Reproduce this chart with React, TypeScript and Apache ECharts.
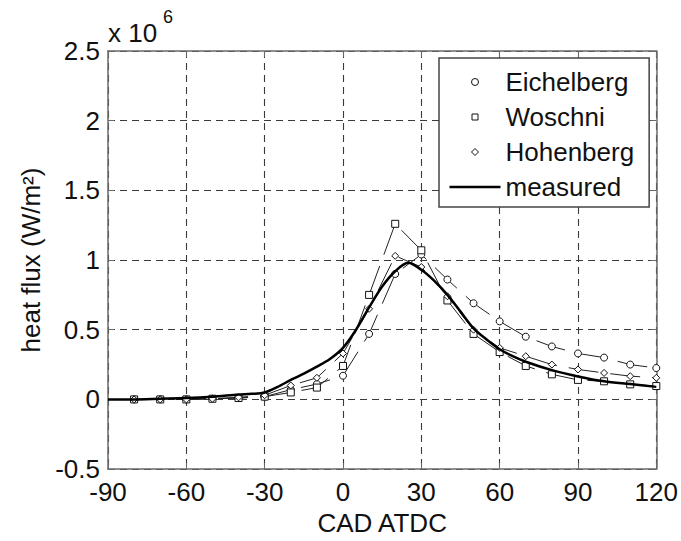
import React, { useEffect, useRef } from "react";
import * as echarts from "echarts";

// Model predictions, every 10 crank-angle degrees (heat flux in 10^6 W/m^2)
const MODEL_CAD = [-80, -70, -60, -50, -40, -30, -20, -10, 0, 10, 20, 30, 40, 50, 60, 70, 80, 90, 100, 110, 120];
const EICHELBERG = [0.0, 0.0, 0.0, 0.005, 0.01, 0.02, 0.07, 0.11, 0.17, 0.47, 0.9, 1.04, 0.86, 0.69, 0.56, 0.45, 0.38, 0.33, 0.3, 0.25, 0.225];
const WOSCHNI = [0.0, 0.0, 0.0, 0.005, 0.01, 0.02, 0.05, 0.085, 0.24, 0.75, 1.26, 1.07, 0.71, 0.47, 0.34, 0.24, 0.18, 0.14, 0.13, 0.108, 0.096];
const HOHENBERG = [0.0, 0.0, 0.0, 0.005, 0.015, 0.03, 0.1, 0.155, 0.33, 0.65, 1.03, 0.95, 0.74, 0.5, 0.37, 0.31, 0.25, 0.215, 0.19, 0.167, 0.155];

// Measured heat flux
const MEASURED_CAD = [-90, -80, -70, -60, -50, -40, -35, -30, -25, -20, -15, -10, -5, 0, 5, 10, 15, 20, 25, 30, 35, 40, 45, 50, 55, 60, 65, 70, 80, 90, 100, 110, 120];
const MEASURED = [0.0, 0.0, 0.005, 0.01, 0.02, 0.035, 0.04, 0.05, 0.09, 0.14, 0.185, 0.235, 0.29, 0.37, 0.5, 0.66, 0.81, 0.92, 0.98, 0.93, 0.85, 0.75, 0.63, 0.51, 0.43, 0.36, 0.31, 0.27, 0.21, 0.165, 0.13, 0.11, 0.09];

const X_TICKS = { min: -90, max: 120, interval: 30 };
const Y_TICKS = { min: -0.5, max: 2.5, interval: 0.5 };

const FONT = "'Liberation Sans', Arial, Helvetica, sans-serif";

// Legend icons drawn inside a 51x7 box so that the marker keeps its shape
const ICON_CIRCLE = "path://M0,0M51,7M29,3.5A3.5,3.5,0,1,1,22,3.5A3.5,3.5,0,1,1,29,3.5Z";
const ICON_SQUARE = "path://M0,0M51,7M22.5,0.5L28.5,0.5L28.5,6.5L22.5,6.5Z";
const ICON_DIAMOND = "path://M0,0M51,7M25.5,0L29,3.5L25.5,7L22,3.5Z";
const ICON_LINE = "path://M0,0M51,7M0,2.2L51,2.2L51,4.8L0,4.8Z";

const pairs = (xs: number[], ys: number[]) => xs.map((x, i) => [x, ys[i]]);

export default function App() {
  const ref = useRef<HTMLDivElement>(null);
  useEffect(() => {
    if (!ref.current) return;
    const chart = echarts.init(ref.current, undefined, { renderer: "svg" });
    const frameLine = { lineStyle: { color: "#6a6a6a", width: 1.5 } };
    const tick = { inside: true, length: 6, lineStyle: { color: "#6a6a6a", width: 1 } };
    const grid = { show: true, lineStyle: { type: [7, 5], color: "#3a3a3a", width: 1.1 } };
    const modelSeries = (name: string, symbol: string, ys: number[]) => ({
      name,
      type: "line",
      data: pairs(MODEL_CAD, ys),
      symbol,
      symbolSize: 7,
      showAllSymbol: true,
      itemStyle: { color: "#fff", borderColor: "#111", borderWidth: 1 },
      lineStyle: { color: "#222", width: 1, type: [30, 12] },
      z: 3,
    });
    const markerLegend = (name: string, icon: string) => ({
      name,
      icon,
      itemStyle: { color: "#fff", borderColor: "#111", borderWidth: 1 },
    });
    chart.setOption({
      animation: false,
      backgroundColor: "#fff",
      textStyle: { fontFamily: FONT },
      grid: { left: 108, right: 24, top: 51, bottom: 67 },
      xAxis: [
        {
          type: "value",
          ...X_TICKS,
          position: "bottom",
          axisLine: { show: true, onZero: false, ...frameLine },
          axisTick: tick,
          axisLabel: { fontSize: 26, color: "#111", margin: 10, fontFamily: FONT },
          splitLine: grid,
          name: "CAD ATDC",
          nameLocation: "middle",
          nameGap: 40,
          nameTextStyle: { fontSize: 26, color: "#111", fontFamily: FONT },
        },
        {
          type: "value",
          ...X_TICKS,
          position: "top",
          axisLine: { show: true, onZero: false, ...frameLine },
          axisTick: tick,
          axisLabel: { show: false },
          splitLine: { show: false },
        },
      ],
      yAxis: [
        {
          type: "value",
          ...Y_TICKS,
          position: "left",
          axisLine: { show: true, onZero: false, ...frameLine },
          axisTick: tick,
          axisLabel: { fontSize: 26, color: "#111", margin: 8, fontFamily: FONT },
          splitLine: grid,
          name: "heat flux (W/m²)",
          nameLocation: "middle",
          nameGap: 62,
          nameTextStyle: { fontSize: 26, color: "#111", fontFamily: FONT },
        },
        {
          type: "value",
          ...Y_TICKS,
          position: "right",
          axisLine: { show: true, onZero: false, ...frameLine },
          axisTick: tick,
          axisLabel: { show: false },
          splitLine: { show: false },
        },
      ],
      legend: {
        orient: "vertical",
        left: 439,
        top: 58,
        backgroundColor: "#fff",
        borderColor: "#444",
        borderWidth: 1.5,
        borderRadius: 0,
        padding: [11, 15, 7, 10],
        itemWidth: 51,
        itemHeight: 7,
        itemGap: 9,
        selectedMode: false,
        textStyle: { fontSize: 26, color: "#111", fontFamily: FONT },
        data: [
          markerLegend("Eichelberg", ICON_CIRCLE),
          markerLegend("Woschni", ICON_SQUARE),
          markerLegend("Hohenberg", ICON_DIAMOND),
          { name: "measured", icon: ICON_LINE, itemStyle: { color: "#000", borderWidth: 0 } },
        ],
      },
      graphic: [
        { type: "text", left: 108, top: 20, style: { text: "x 10", fontSize: 26, fill: "#111", fontFamily: FONT } },
        { type: "text", left: 163, top: 8, style: { text: "6", fontSize: 18, fill: "#111", fontFamily: FONT } },
      ],
      series: [
        modelSeries("Eichelberg", "circle", EICHELBERG),
        modelSeries("Woschni", "rect", WOSCHNI),
        modelSeries("Hohenberg", "diamond", HOHENBERG),
        {
          name: "measured",
          type: "line",
          data: pairs(MEASURED_CAD, MEASURED),
          symbol: "none",
          smooth: 0.3,
          lineStyle: { color: "#000", width: 2.5 },
          z: 4,
        },
      ],
    });
    return () => chart.dispose();
  }, []);
  return (
    <div
      ref={ref}
      style={{ position: "fixed", left: 0, top: 0, width: 681, height: 541, background: "#fff" }}
    />
  );
}
